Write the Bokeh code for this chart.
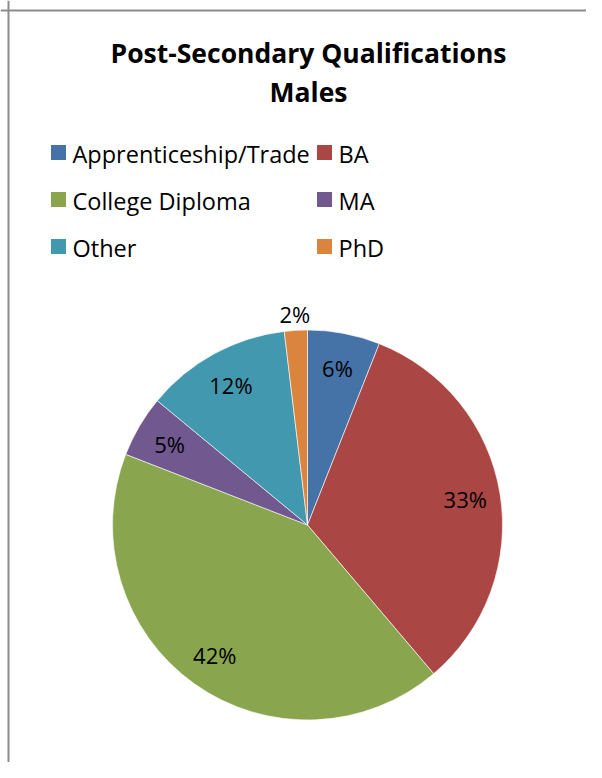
import math
from bokeh.plotting import figure
from bokeh.models import Range1d, Span, ColumnDataSource
from bokeh.core.properties import value
from bokeh.embed import file_html
from bokeh.resources import INLINE

# ---- data ----
title_lines = ["Post-Secondary Qualifications", "Males"]
categories = ["Apprenticeship/Trade", "BA", "College Diploma", "MA", "Other", "PhD"]
shares = [6.0, 32.8, 42.1, 5.1, 12.1, 1.9]
colors = ["#4572A7", "#AA4643", "#89A54E", "#71588F", "#4198AF", "#DB843D"]

W, H = 586, 762
FONT = "Open Sans"

p = figure(width=W, height=H, output_backend="svg", toolbar_location=None,
           x_range=Range1d(0, W), y_range=Range1d(0, H), min_border=0,
           outline_line_color=None, background_fill_color="white")
p.axis.visible = False
p.grid.visible = False

def sx(X):  # picture x -> data x
    return X
def sy(Y):  # picture y -> data y
    return H - Y

# chart border (top & left visible)
p.add_layout(Span(location=sx(8), dimension="height", line_color="#8c8c8c", line_width=2))
p.add_layout(Span(location=sy(10), dimension="width", line_color="#8c8c8c", line_width=2))

# title
p.text(x=[sx(308)] * 2, y=[sy(52), sy(91)], text=title_lines,
       text_font=value(FONT), text_font_style="bold", text_font_size="26.5px",
       text_align="center", text_baseline="middle", text_color="black")

# legend (2 columns x 3 rows)
mx, my, tx, ty = [], [], [], []
for i, c in enumerate(categories):
    col, row = i % 2, i // 2
    mx.append(sx(58 + col * 266))
    my.append(sy(152 + row * 47))
    tx.append(sx(72 + col * 266))
    ty.append(sy(153 + row * 47))
p.scatter(x=mx, y=my, marker="square", size=15, fill_color=colors, line_color=None)
p.text(x=tx, y=ty, text=categories, text_font=value(FONT), text_font_size="23.5px",
       text_align="left", text_baseline="middle", text_color="black")

# pie
cx, cy, R = sx(307), sy(524.5), 195
total = sum(shares)
starts, ends, lx, ly, labels = [], [], [], [], []
cum = 0.0
for v in shares:
    a0 = math.pi / 2 - 2 * math.pi * cum / total
    cum += v
    a1 = math.pi / 2 - 2 * math.pi * cum / total
    starts.append(a1)
    ends.append(a0)
    mid = (a0 + a1) / 2
    r = 0.82 * R if v / total >= 0.03 else R + 16
    lx.append(cx + r * math.cos(mid))
    ly.append(cy + r * math.sin(mid))
    labels.append(f"{round(v / total * 100)}%")

src = ColumnDataSource(dict(start=starts, end=ends, color=colors))
p.wedge(x=cx, y=cy, radius=R, start_angle="start", end_angle="end",
        fill_color="color", line_color="white", line_width=0.6, source=src)
p.text(x=lx, y=ly, text=labels, text_font=value(FONT), text_font_size="22px",
       text_align="center", text_baseline="middle", text_color="black")

open("out.html", "w").write(file_html(p, INLINE))
